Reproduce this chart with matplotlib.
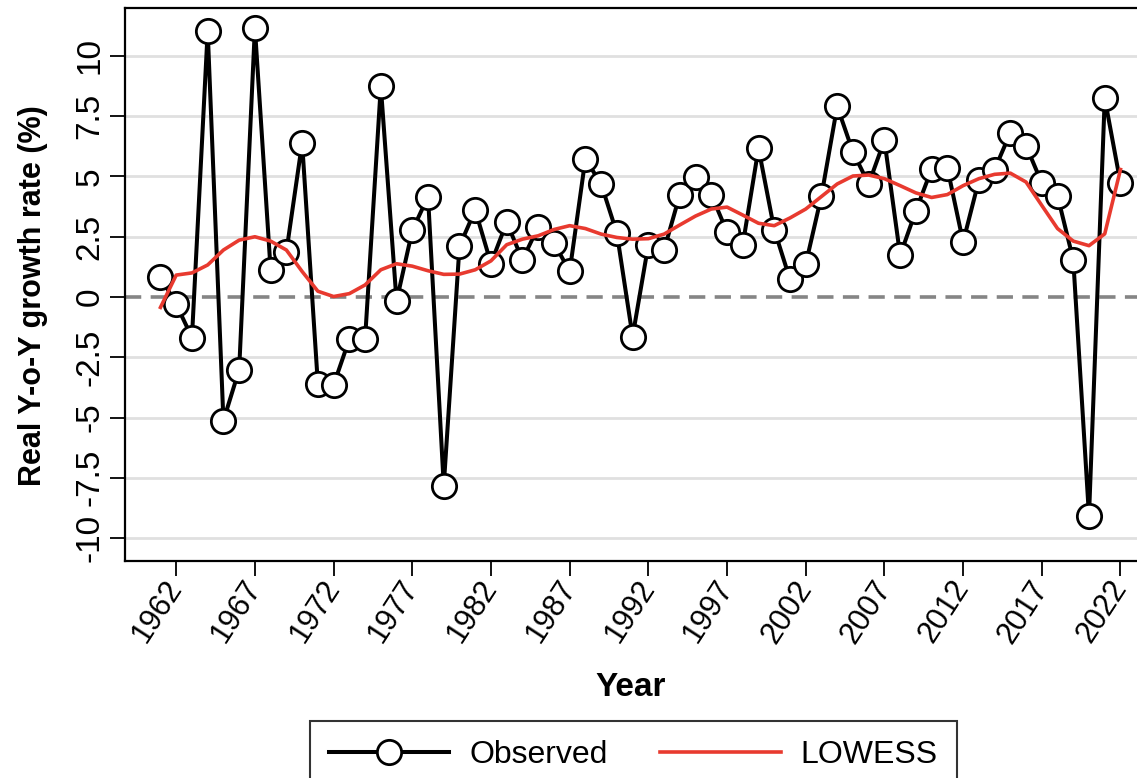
import matplotlib
matplotlib.use("Agg")
import matplotlib.pyplot as plt
from matplotlib import font_manager

years = list(range(1961, 2023))
observed = [0.84, -0.30, -1.68, 11.04, -5.13, -3.01, 11.17, 1.10, 1.88, 6.40,
            -3.60, -3.65, -1.75, -1.75, 8.74, -0.17, 2.76, 4.17, -7.83, 2.11,
            3.61, 1.39, 3.10, 1.54, 2.91, 2.25, 1.06, 5.73, 4.69, 2.65,
            -1.64, 2.17, 1.95, 4.25, 4.96, 4.25, 2.70, 2.17, 6.17, 2.80,
            0.73, 1.36, 4.20, 7.91, 6.02, 4.69, 6.50, 1.73, 3.58, 5.31,
            5.36, 2.28, 4.84, 5.29, 6.81, 6.28, 4.73, 4.20, 1.54, -9.09,
            8.25, 4.73]
lowess = [-0.43, 0.91, 1.00, 1.33, 1.95, 2.36, 2.50, 2.32, 1.95, 1.06,
          0.24, 0.02, 0.14, 0.50, 1.13, 1.38, 1.28, 1.09, 0.94, 0.95,
          1.13, 1.50, 2.17, 2.40, 2.54, 2.80, 2.96, 2.84, 2.61, 2.47,
          2.40, 2.42, 2.61, 2.99, 3.36, 3.65, 3.73, 3.40, 3.06, 2.96,
          3.28, 3.65, 4.17, 4.69, 5.02, 5.06, 4.91, 4.62, 4.32, 4.13,
          4.25, 4.62, 4.91, 5.09, 5.14, 4.77, 3.80, 2.84, 2.32, 2.13,
          2.62, 5.29]
xticks = list(range(1962, 2023, 5))
yticks = [-10, -7.5, -5, -2.5, 0, 2.5, 5, 7.5, 10]
ytick_labels = ["-10", "-7.5", "-5", "-2.5", "0", "2.5", "5", "7.5", "10"]

avail = {f.name for f in font_manager.fontManager.ttflist}
fam = [f for f in ["Liberation Sans", "Arial", "DejaVu Sans"] if f in avail]
plt.rcParams['font.family'] = fam

fig = plt.figure(figsize=(11.37, 7.78), dpi=100)
ax = fig.add_axes([0.110, 0.279, 0.890, 0.711])

ax.set_xlim(1958.75, 2023.05)
ax.set_ylim(-10.95, 12.0)

for yv in yticks:
    if yv != 0:
        ax.axhline(yv, color='#e0e0e0', lw=2.0, zorder=0)
ax.axhline(0, color='#858585', lw=2.6, dashes=(4.5, 2.6), zorder=1)

ax.plot(years, observed, color='black', lw=2.9, marker='o', markersize=17.5,
        markerfacecolor='white', markeredgecolor='black', markeredgewidth=2.0,
        zorder=3, label='Observed')
ax.plot(years, lowess, color='#E83A2F', lw=2.6, zorder=4, label='LOWESS')

ax.set_xticks(xticks)
ax.set_xticklabels([str(x) for x in xticks], rotation=57, ha='right',
                   va='center', rotation_mode='anchor', fontsize=22)
ax.set_yticks(yticks)
ax.set_yticklabels(ytick_labels, rotation=90, va='center', fontsize=24)
ax.tick_params(axis='both', direction='out', length=11, width=1.3, color='black')
ax.tick_params(axis='x', pad=5)
ax.tick_params(axis='y', pad=3)

for s in ['left', 'bottom', 'top']:
    ax.spines[s].set_linewidth(1.6)
    ax.spines[s].set_color('black')
ax.spines['right'].set_visible(False)

ax.set_xlabel('Year', fontsize=24, fontweight='bold')
ax.xaxis.set_label_coords(0.5, -0.200)
ax.set_ylabel('Real Y-o-Y growth rate (%)', fontsize=22, fontweight='bold')
ax.yaxis.set_label_coords(-0.076, 0.479)

leg = fig.legend(loc='upper center', bbox_to_anchor=(0.557, 0.073), ncol=2,
                 fontsize=23, frameon=True, fancybox=False, edgecolor='black',
                 handlelength=3.76, handletextpad=0.63, columnspacing=1.66,
                 borderpad=0.6, borderaxespad=0, numpoints=1)
leg.get_frame().set_linewidth(1.5)

fig.savefig('out.png', dpi=100)
